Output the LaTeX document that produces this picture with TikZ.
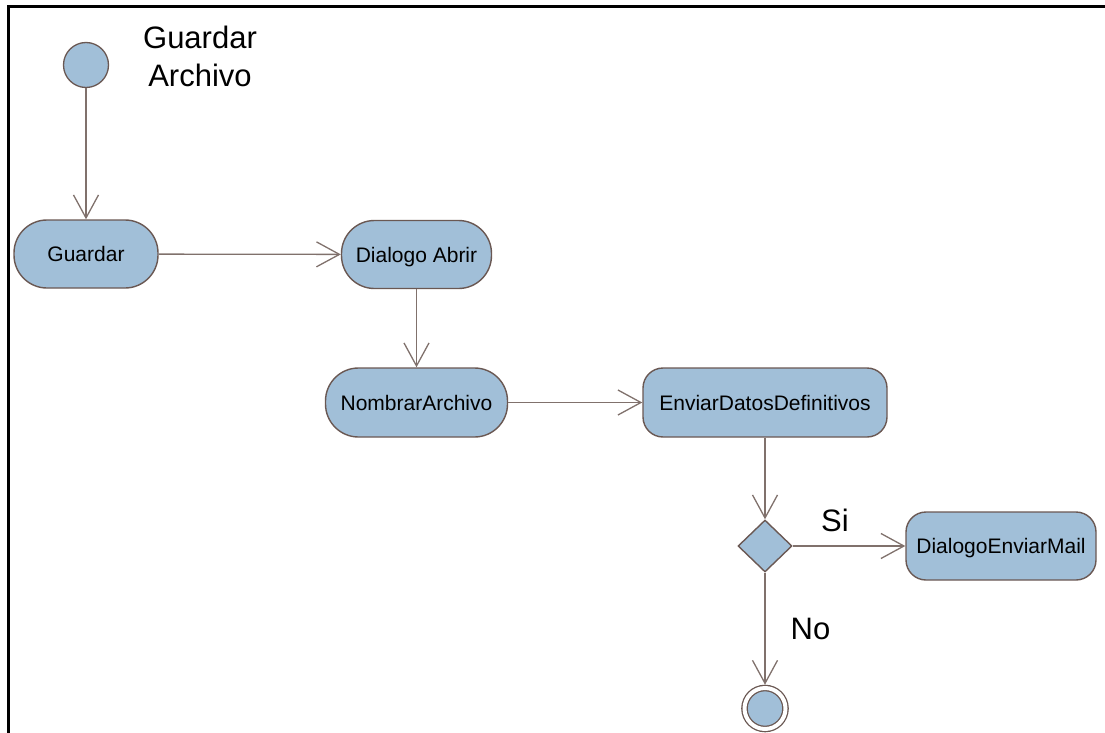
\documentclass[tikz,border=0pt]{standalone}
\usepackage{fontspec}
\setmainfont{Liberation Sans}
\usetikzlibrary{arrows.meta,shapes.geometric}
\definecolor{actfill}{RGB}{161,191,216}
\definecolor{actborder}{RGB}{106,88,83}
\definecolor{flowline}{RGB}{128,113,108}
\begin{document}
\begin{tikzpicture}[x=1pt,y=-1pt,
  actbase/.style={draw=actborder, fill=actfill, line width=1.4pt, inner sep=0pt,
    text height=15.5pt, text depth=0pt, font=\fontsize{21}{25}\selectfont},
  stadium/.style={actbase, rectangle, rounded corners=33pt},
  roundbox/.style={actbase, rectangle, rounded corners=20pt},
  startdot/.style={circle, draw=actborder, fill=actfill, line width=1.3pt, minimum size=45pt, inner sep=0pt},
  enddot/.style={circle, draw=actborder, fill=actfill, line width=1.3pt, double=white,
    double distance=4pt, minimum size=41pt, inner sep=0pt, outer sep=3.3pt},
  choice/.style={diamond, draw=actborder, fill=actfill, line width=1.4pt, inner sep=0pt,
    minimum width=54pt, minimum height=52pt},
  flow/.style={draw=flowline, line width=1.3pt, -{Straight Barb[length=23pt, width=25pt, line width=1.3pt]}},
  biglabel/.style={font=\fontsize{31}{38}\selectfont, inner sep=0pt}
]
\useasboundingbox (0,0) rectangle (1105,733);

% frame edges
\draw[line width=2.5pt] (8.7,733) -- (8.7,6.7) -- (1105,6.7);

% title (base anchor sits on the last line)
\node[biglabel, align=center, anchor=base] (title) at (200,87) {Guardar\\Archivo};

% nodes
\node[startdot] (start) at (86,65) {};
\node[stadium, minimum width=144pt, minimum height=68pt] (guardar) at (86,254) {Guardar};
\node[stadium, minimum width=150pt, minimum height=68pt] (abrir) at (416.5,254.5) {Dialogo Abrir};
\node[stadium, minimum width=182pt, minimum height=69pt] (nombrar) at (416.5,402.5) {NombrarArchivo};
\node[roundbox, minimum width=244pt, minimum height=69pt] (enviar) at (765,402.5) {EnviarDatosDefinitivos};
\node[choice] (dec) at (765,546) {};
\node[roundbox, minimum width=190pt, minimum height=68pt] (mail) at (1001,546) {DialogoEnviarMail};
\node[enddot] (fin) at (765,708.5) {};

% guard labels
\node[biglabel, anchor=base] (si) at (835,531) {Si};
\node[biglabel, anchor=base] (no) at (810.5,639) {No};

% control flow
\draw[flow] (start) -- (guardar);
\draw[flow] (guardar) -- (abrir);
\draw[flow] (abrir) -- (nombrar);
\draw[flow] (nombrar) -- (enviar);
\draw[flow] (enviar) -- (dec);
\draw[flow] (dec) -- (mail);
\draw[flow] (dec) -- (fin);
\end{tikzpicture}
\end{document}
